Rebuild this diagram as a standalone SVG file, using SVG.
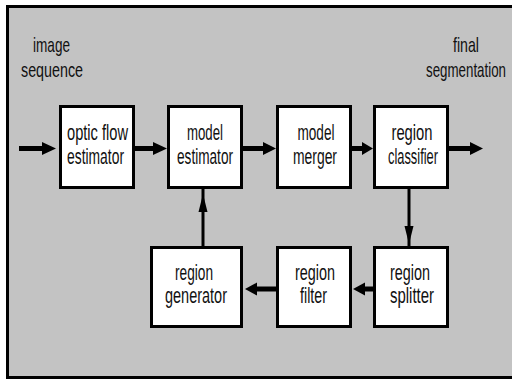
<svg xmlns="http://www.w3.org/2000/svg" width="512" height="379" viewBox="0 0 512 379">
<style>
.box{fill:#fff;stroke:#000;stroke-width:3}
.t{font-family:"Liberation Sans",Arial,sans-serif;font-size:22px;fill:#111;text-anchor:middle}
.l{font-family:"Liberation Sans",Arial,sans-serif;font-size:21px;fill:#111;text-anchor:middle}
.h{stroke:#000;stroke-width:5;fill:none}
.v{stroke:#000;stroke-width:3;fill:none}
.ah{fill:#000}
</style>
<rect x="0" y="0" width="512" height="379" fill="#fff"/>
<rect x="7.5" y="6.5" width="520" height="371" fill="#c3c3c3" stroke="#000" stroke-width="3"/>
<g id="label-input">
<text class="l" x="51.5" y="52" textLength="37" lengthAdjust="spacingAndGlyphs">image</text>
<text class="l" x="52" y="77" textLength="62" lengthAdjust="spacingAndGlyphs">sequence</text>
</g>
<g id="label-output">
<text class="l" x="466" y="52" textLength="26" lengthAdjust="spacingAndGlyphs">final</text>
<text class="l" transform="translate(466,77) scale(0.635,1)" x="0" y="0">segmentation</text>
</g>
<g id="optic-flow-estimator">
<rect class="box" x="60.5" y="106.5" width="73" height="81"/>
<text class="t" x="97.5" y="140" textLength="61" lengthAdjust="spacingAndGlyphs">optic flow</text>
<text class="t" x="95.5" y="164" textLength="57" lengthAdjust="spacingAndGlyphs">estimator</text>
</g>
<g id="model-estimator">
<rect class="box" x="168.5" y="106.5" width="73" height="81"/>
<text class="t" x="205" y="140" textLength="36" lengthAdjust="spacingAndGlyphs">model</text>
<text class="t" x="205" y="164" textLength="56" lengthAdjust="spacingAndGlyphs">estimator</text>
</g>
<g id="model-merger">
<rect class="box" x="277.5" y="106.5" width="73" height="81"/>
<text class="t" x="316" y="140" textLength="37" lengthAdjust="spacingAndGlyphs">model</text>
<text class="t" x="315" y="164" textLength="44" lengthAdjust="spacingAndGlyphs">merger</text>
</g>
<g id="region-classifier">
<rect class="box" x="374.5" y="106.5" width="73" height="81"/>
<text class="t" x="412" y="140" textLength="41" lengthAdjust="spacingAndGlyphs">region</text>
<text class="t" x="413" y="164" textLength="50" lengthAdjust="spacingAndGlyphs">classifier</text>
</g>
<g id="region-generator">
<rect class="box" x="151.5" y="247.5" width="90" height="79"/>
<text class="t" x="194" y="280" textLength="38" lengthAdjust="spacingAndGlyphs">region</text>
<text class="t" x="196" y="303" textLength="62" lengthAdjust="spacingAndGlyphs">generator</text>
</g>
<g id="region-filter">
<rect class="box" x="277.5" y="247.5" width="73" height="79"/>
<text class="t" x="315" y="280" textLength="40" lengthAdjust="spacingAndGlyphs">region</text>
<text class="t" x="313.5" y="303" textLength="27" lengthAdjust="spacingAndGlyphs">filter</text>
</g>
<g id="region-splitter">
<rect class="box" x="374.5" y="247.5" width="73" height="79"/>
<text class="t" x="410" y="280" textLength="40" lengthAdjust="spacingAndGlyphs">region</text>
<text class="t" x="412" y="303" textLength="44" lengthAdjust="spacingAndGlyphs">splitter</text>
</g>
<g id="connectors">
<line class="h" x1="19" y1="148.5" x2="44" y2="148.5"/>
<polygon class="ah" points="42,142 56,148.5 42,155"/>
<line class="h" x1="135" y1="148.5" x2="155" y2="148.5"/>
<polygon class="ah" points="153,142 167,148.5 153,155"/>
<line class="h" x1="243" y1="148.5" x2="265" y2="148.5"/>
<polygon class="ah" points="263,142 276,148.5 263,155"/>
<line class="h" x1="352" y1="148.5" x2="364" y2="148.5"/>
<polygon class="ah" points="362,142 373,148.5 362,155"/>
<line class="h" x1="449" y1="148.5" x2="472" y2="148.5"/>
<polygon class="ah" points="470,142 483,148.5 470,155"/>
<line class="v" x1="409" y1="189" x2="409" y2="246"/>
<polygon class="ah" points="404.5,226 413.5,226 409,244"/>
<line class="v" x1="203" y1="189" x2="203" y2="246"/>
<polygon class="ah" points="198.5,212 207.5,212 203,194"/>
<line class="h" x1="373" y1="289" x2="363" y2="289"/>
<polygon class="ah" points="365,282.5 353,289 365,295.5"/>
<line class="h" x1="276" y1="289" x2="255" y2="289"/>
<polygon class="ah" points="257,282.5 245,289 257,295.5"/>
</g>
</svg>
